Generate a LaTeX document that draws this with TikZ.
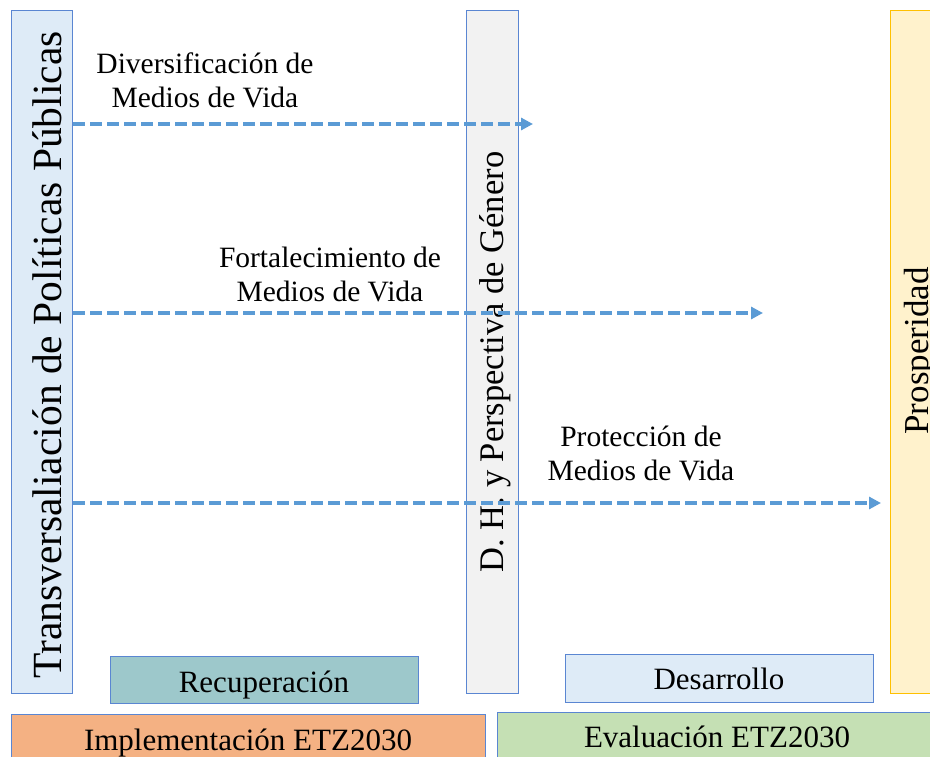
\documentclass[tikz,border=0pt]{standalone}
\usepackage{fontspec}
\setmainfont{Liberation Serif}
\usetikzlibrary{arrows.meta}
\definecolor{bordblue}{HTML}{5A86D2}
\definecolor{lightblue}{HTML}{DEEBF7}
\definecolor{grayfill}{HTML}{F2F2F2}
\definecolor{yelfill}{HTML}{FFF2CC}
\definecolor{yelbord}{HTML}{FFC000}
\definecolor{tealfill}{HTML}{9DC8CB}
\definecolor{orangefill}{HTML}{F4B183}
\definecolor{greenfill}{HTML}{C5E0B4}
\definecolor{arrblue}{HTML}{5B9BD5}
\tikzset{
  box/.style={draw=bordblue, line width=1.4pt, rectangle, inner sep=0pt, anchor=north west},
  vtext/.style={rotate=90, anchor=base, inner sep=0pt},
  btext/.style={anchor=base, inner sep=0pt, font=\fontsize{31}{36}\selectfont},
  lbl/.style={align=center, inner sep=0pt, anchor=base, font=\fontsize{29.5}{34}\selectfont},
  arr/.style={draw=arrblue, line width=3.2pt, dash pattern=on 12pt off 5pt,
    -{Triangle[length=12pt,width=12pt]}}
}
\begin{document}
\begin{tikzpicture}[x=1pt,y=-1pt]
\useasboundingbox (0,0) rectangle (930,757);
\clip (0,0) rectangle (930,757);
\fill[white] (0,0) rectangle (930,757);
% vertical boxes
\node[box, fill=lightblue, minimum width=61pt, minimum height=683pt] (left) at (11,10) {};
\node[box, fill=grayfill, minimum width=52pt, minimum height=683pt] (gray) at (466,10) {};
\node[box, draw=yelbord, fill=yelfill, minimum width=60pt, minimum height=683pt] (right) at (890,10) {};
% bottom boxes
\node[box, fill=tealfill, minimum width=308pt, minimum height=47pt] (rec) at (110,656) {};
\node[box, fill=lightblue, minimum width=308pt, minimum height=48pt] (des) at (565,654) {};
\node[box, fill=orangefill, minimum width=474pt, minimum height=60pt] (imp) at (11,714) {};
\node[box, fill=greenfill, minimum width=445pt, minimum height=60pt] (eva) at (497,712) {};
% vertical texts
\node[vtext, font=\fontsize{41.5}{48}\selectfont] (tleft) at (61,355) {Transversaliación de Políticas Públicas};
\node[vtext, font=\fontsize{34.5}{40}\selectfont] (tgray) at (503,362) {D. H. y Perspectiva de Género};
\node[vtext, font=\fontsize{35}{40}\selectfont] (tright) at (928,351) {Prosperidad};
% bottom texts
\node[btext] (trec) at (264,692) {Recuperación};
\node[btext] (tdes) at (719,689) {Desarrollo};
\node[btext] (timp) at (248,750) {Implementación ETZ2030};
\node[btext] (teva) at (717,747) {Evaluación ETZ2030};
% arrows
\coordinate (e1) at (533,124);
\coordinate (e2) at (763,313);
\coordinate (e3) at (881,503);
\draw[arr] (left.east |- e1) -- (e1);
\draw[arr] (left.east |- e2) -- (e2);
\draw[arr] (left.east |- e3) -- (e3);
% labels
\node[lbl] (l1) at (205,108) {Diversificación de\\Medios de Vida};
\node[lbl] (l2) at (330,301) {Fortalecimiento de\\Medios de Vida};
\node[lbl] (l3) at (641,480) {Protección de\\Medios de Vida};
\end{tikzpicture}
\end{document}
